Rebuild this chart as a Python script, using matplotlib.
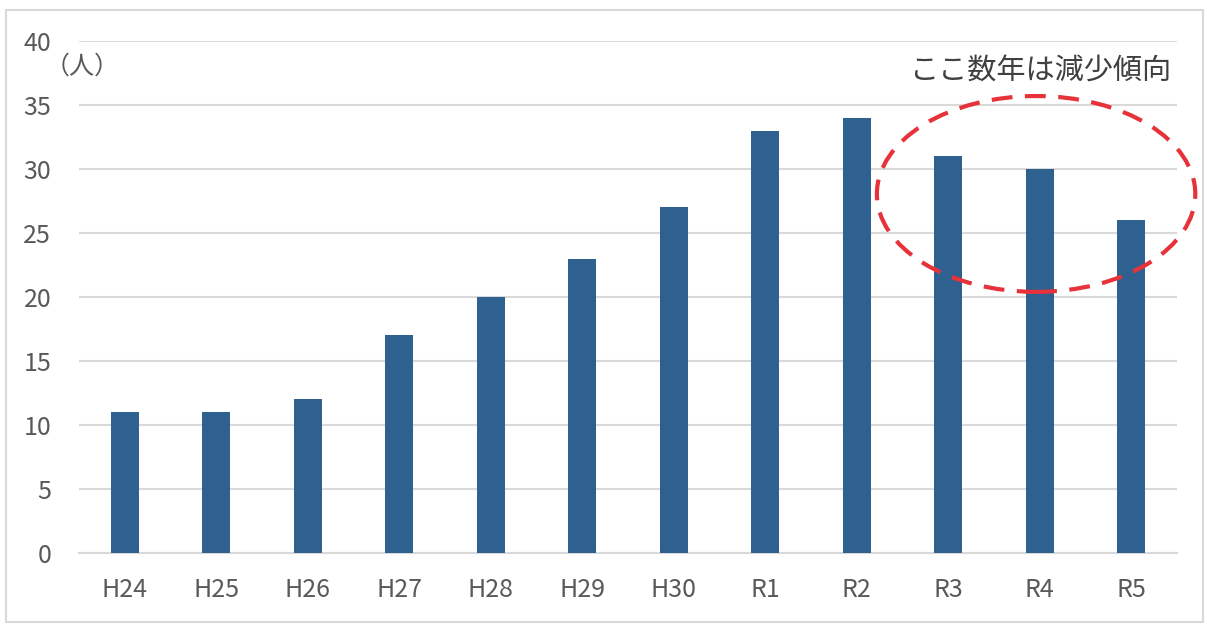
import matplotlib.pyplot as plt
from matplotlib.patches import Ellipse, Rectangle

plt.rcParams['font.family'] = ['Noto Sans CJK JP', 'DejaVu Sans']

years = ['H24', 'H25', 'H26', 'H27', 'H28', 'H29', 'H30', 'R1', 'R2', 'R3', 'R4', 'R5']
people = [11, 11, 12, 17, 20, 23, 27, 33, 34, 31, 30, 26]

fig = plt.figure(figsize=(12.07, 6.3), dpi=100)
ax = fig.add_axes([79 / 1207, 1 - 553 / 630, 1098 / 1207, 512 / 630])

x = range(len(years))
ax.bar(x, people, width=0.31, color='#2E6190', zorder=3)
ax.set_xlim(-0.5, len(years) - 0.5)
ax.set_ylim(0, 40)
ax.set_yticks(range(0, 41, 5))
ax.set_xticks(list(x))
ax.set_xticklabels(years)
ax.yaxis.grid(True, color='#d9d9d9', linewidth=1.5, zorder=0)
ax.tick_params(axis='both', length=0, labelsize=18, labelcolor='#595959')
ax.tick_params(axis='y', pad=20)
ax.tick_params(axis='x', pad=17)
for s in ['top', 'right', 'left']:
    ax.spines[s].set_visible(False)
ax.spines['bottom'].set_color('#d9d9d9')
ax.spines['bottom'].set_linewidth(1.5)

ax.text(-0.47, 38.0, '（人）', fontsize=18, color='#595959', ha='center', va='center')
ax.text(11.45, 37.6, 'ここ数年は減少傾向', fontsize=21, color='#404040', ha='right', va='center')

ell = Ellipse((9.96, 28.05), 3.48, 15.3, fill=False, edgecolor='#E8323A',
              linewidth=3, linestyle=(0, (5, 3)), clip_on=False, zorder=4)
ax.add_patch(ell)

fig.add_artist(Rectangle((6 / 1207, 8 / 630), 1197 / 1207, 612 / 630, transform=fig.transFigure,
                         fill=False, edgecolor='#d9d9d9', linewidth=1.5))

fig.savefig('out.png', dpi=100)
